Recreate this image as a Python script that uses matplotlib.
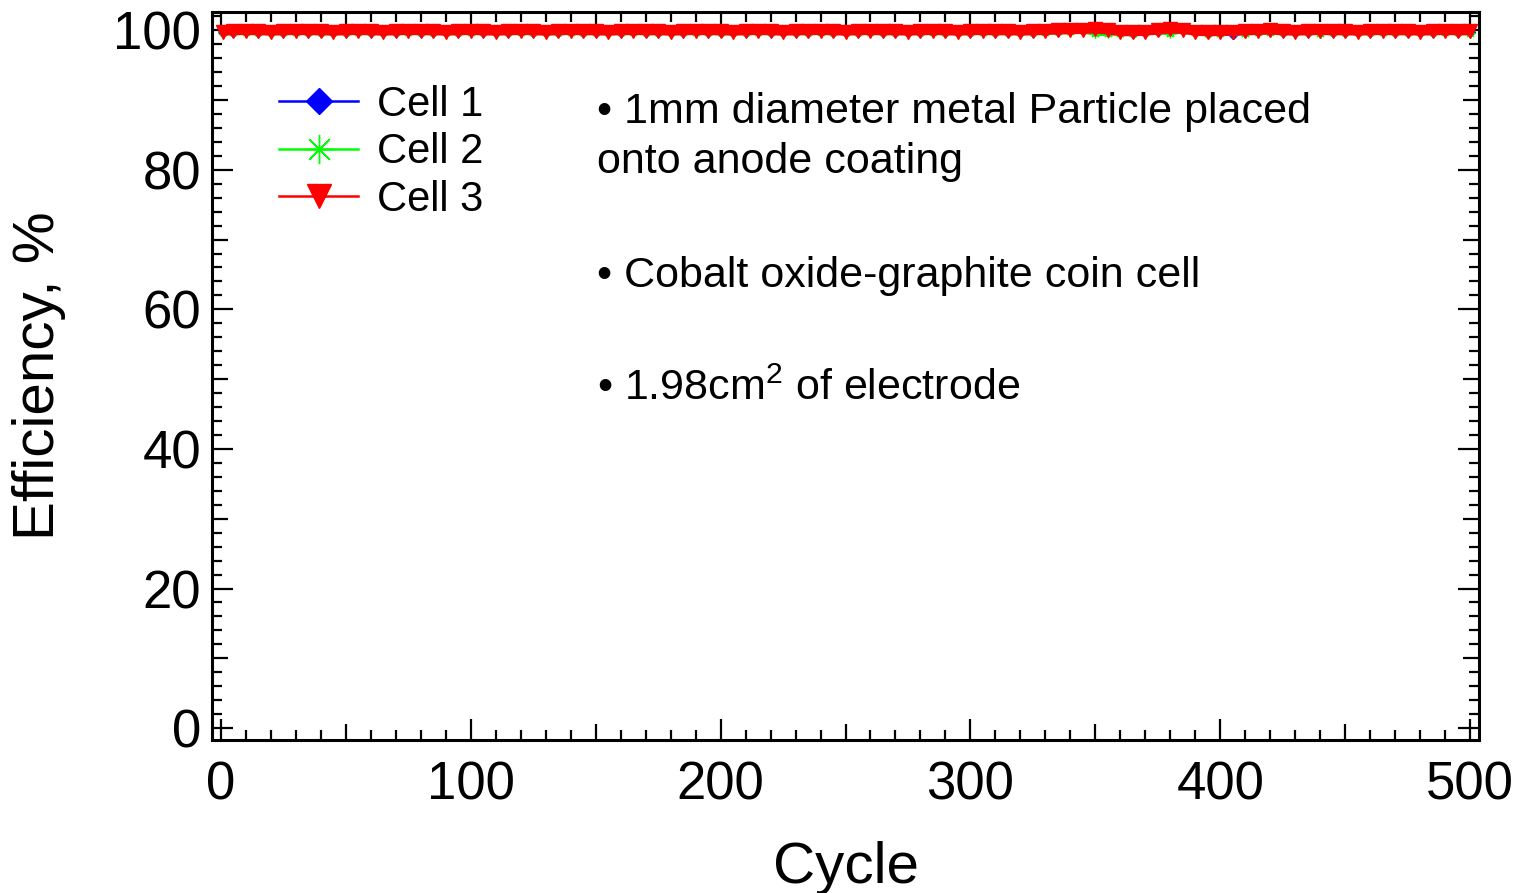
import numpy as np
import matplotlib
matplotlib.use("Agg")
import matplotlib.pyplot as plt
from matplotlib.lines import Line2D
from matplotlib.ticker import MultipleLocator

plt.rcParams['font.family'] = ['Liberation Sans', 'DejaVu Sans']
plt.rcParams['mathtext.fontset'] = 'custom'
plt.rcParams['mathtext.rm'] = 'Liberation Sans'

# cycle numbers (1, 5, 10, ... 500)
cycles = [1] + list(range(5, 501, 5))

# coulombic efficiency, %
cell1 = [
    99.8, 99.8, 99.85, 99.8, 99.75, 99.8, 99.85, 99.8, 99.8, 99.75,
    99.8, 99.85, 99.8, 99.75, 99.8, 99.85, 99.8, 99.8, 99.75, 99.8,
    99.85, 99.8, 99.75, 99.8, 99.85, 99.8, 99.75, 99.8, 99.85, 99.8,
    99.8, 99.75, 99.8, 99.85, 99.8, 99.8, 99.75, 99.8, 99.85, 99.8,
    99.8, 99.75, 99.8, 99.85, 99.8, 99.75, 99.8, 99.8, 99.85, 99.8,
    99.75, 99.8, 99.85, 99.8, 99.8, 99.75, 99.8, 99.85, 99.8, 99.75,
    99.8, 99.85, 99.8, 99.8, 99.75, 99.8, 99.85, 99.9, 99.95, 100.0,
    100.05, 99.9, 99.7, 99.65, 99.75, 99.9, 100.0, 100.0, 99.75, 99.65,
    99.7, 99.5, 99.8, 99.85, 99.9, 99.8, 99.75, 99.8, 99.85, 99.8,
    99.8, 99.75, 99.8, 99.85, 99.8, 99.8, 99.75, 99.8, 99.85, 99.8, 99.8,
]
cell2 = [
    99.7, 99.75, 99.8, 99.75, 99.7, 99.75, 99.8, 99.75, 99.75, 99.7,
    99.75, 99.8, 99.75, 99.7, 99.75, 99.8, 99.75, 99.75, 99.7, 99.75,
    99.8, 99.75, 99.7, 99.75, 99.8, 99.75, 99.7, 99.75, 99.8, 99.75,
    99.75, 99.7, 99.75, 99.8, 99.75, 99.75, 99.7, 99.75, 99.8, 99.75,
    99.75, 99.7, 99.75, 99.8, 99.75, 99.7, 99.75, 99.75, 99.8, 99.75,
    99.7, 99.75, 99.8, 99.75, 99.75, 99.7, 99.75, 99.8, 99.75, 99.7,
    99.75, 99.8, 99.75, 99.75, 99.7, 99.75, 99.8, 99.85, 99.9, 99.95,
    99.55, 99.55, 99.65, 99.6, 99.7, 99.85, 99.6, 99.95, 99.7, 99.6,
    99.65, 99.7, 99.6, 99.75, 99.8, 99.75, 99.7, 99.75, 99.65, 99.75,
    99.75, 99.7, 99.75, 99.8, 99.7, 99.75, 99.7, 99.75, 99.8, 99.7, 99.65,
]
cell3 = [
    99.8, 99.85, 99.9, 99.85, 99.8, 99.85, 99.9, 99.85, 99.85, 99.8,
    99.85, 99.9, 99.85, 99.8, 99.85, 99.9, 99.85, 99.85, 99.8, 99.85,
    99.9, 99.85, 99.8, 99.85, 99.9, 99.85, 99.8, 99.85, 99.9, 99.85,
    99.85, 99.8, 99.85, 99.9, 99.85, 99.85, 99.8, 99.85, 99.9, 99.85,
    99.85, 99.8, 99.85, 99.9, 99.85, 99.8, 99.85, 99.85, 99.9, 99.85,
    99.8, 99.85, 99.9, 99.85, 99.85, 99.8, 99.85, 99.9, 99.85, 99.8,
    99.85, 99.9, 99.85, 99.85, 99.8, 99.85, 99.9, 99.95, 100.0, 100.05,
    100.1, 99.95, 99.75, 99.7, 99.8, 99.95, 100.1, 100.05, 99.8, 99.7,
    99.75, 99.8, 99.85, 99.9, 99.95, 99.85, 99.8, 99.85, 99.9, 99.85,
    99.85, 99.8, 99.85, 99.9, 99.85, 99.85, 99.8, 99.85, 99.9, 99.85, 99.85,
]

labels = ["Cell 1", "Cell 2", "Cell 3"]
colors = ["#0000ff", "#00ff00", "#ff0000"]
markers = ["D", (8, 2, 0), "v"]

fig = plt.figure(figsize=(15.17, 8.93), dpi=100)
ax = fig.add_axes([212 / 1517, 1 - 740 / 893, (1479 - 212) / 1517, 728 / 893])

# data markers are dense in the original, so the curves read as a solid band
for y, c, m, ms, lw in zip([cell1, cell2, cell3], colors, markers,
                           [5, 7, 9.5], [4, 4, 6]):
    ax.plot(cycles, y, color=c, lw=lw, marker=m, markersize=ms,
            markeredgecolor=c, markerfacecolor=c, markeredgewidth=1,
            solid_capstyle='butt')

ax.set_xlim(-3.6, 503.6)
ax.set_ylim(-1.7, 102.6)

# ticks: major / medium / minor
ax.xaxis.set_major_locator(MultipleLocator(100))
ax.xaxis.set_minor_locator(MultipleLocator(10))
ax.yaxis.set_major_locator(MultipleLocator(20))
ax.yaxis.set_minor_locator(MultipleLocator(2))
ax.tick_params(which='both', direction='in', top=True, right=True, width=1.6)
ax.tick_params(which='major', length=15, labelsize=38)
ax.tick_params(which='minor', length=7.5)
ax.tick_params(axis='x', which='major', pad=15)
ax.tick_params(axis='y', which='major', pad=8)

fig.canvas.draw()
for axis, step in [(ax.xaxis, 50), (ax.yaxis, 10)]:
    locs = axis.get_minorticklocs()
    for t, v in zip(axis.get_minor_ticks(), locs):
        if abs(v / step - round(v / step)) < 1e-6:
            t.tick1line.set_markersize(11.5)
            t.tick2line.set_markersize(11.5)

for s in ax.spines.values():
    s.set_linewidth(2.2)

ax.set_xlabel("Cycle", fontsize=42, labelpad=22)
ax.set_ylabel("Efficiency, %", fontsize=42, labelpad=34)

handles = [Line2D([], [], color=c, lw=1.8, marker=m, markersize=s,
                  markerfacecolor=c, markeredgecolor=c, markeredgewidth=1)
           for c, m, s in zip(colors, markers, [13, 21, 17])]
ax.legend(handles, labels, loc='upper left', bbox_to_anchor=(0.053, 0.9),
          frameon=False, fontsize=30, handlelength=1.9, handletextpad=0.45,
          labelspacing=0.18, borderpad=0, borderaxespad=0)

notes = [
    (112, "\u2022 1mm diameter metal Particle placed"),
    (162, "onto anode coating"),
    (276, "\u2022 Cobalt oxide-graphite coin cell"),
    (389, "\u2022 1.98cm$^{2}$ of electrode"),
]
for ypx, txt in notes:
    fig.text(597 / 1517, 1 - ypx / 893, txt, fontsize=31, va='center', ha='left')

fig.savefig("out.png", dpi=100)
